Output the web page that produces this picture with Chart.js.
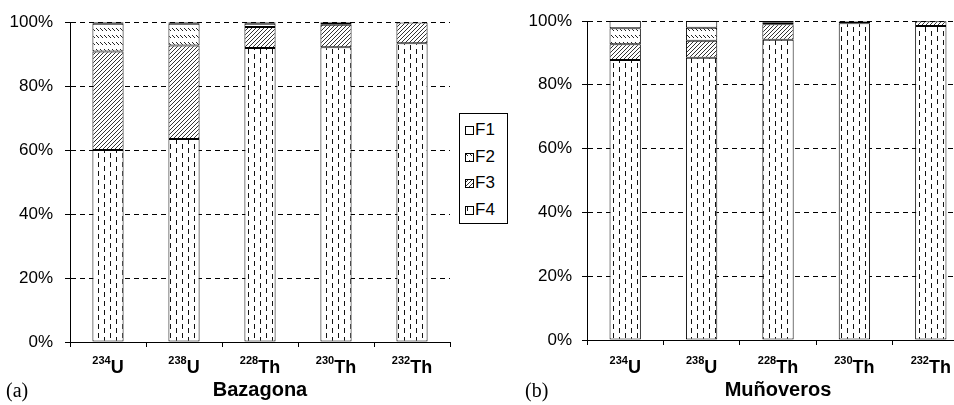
<!DOCTYPE html>
<html><head><meta charset="utf-8">
<script src="https://cdn.jsdelivr.net/npm/chart.js@4.4.1/dist/chart.umd.min.js"></script>
<style>
html,body{margin:0;padding:0;width:954px;height:405px;overflow:hidden;background:#fff;}
#c1{position:absolute;left:0;top:0;}
#c2{position:absolute;left:515px;top:0;}
#legend{position:absolute;left:459px;top:113px;width:47px;height:109px;border:1px solid #000;background:#fff;font-family:'Liberation Sans',Arial,sans-serif;font-size:17px;z-index:2;color:#000}
.row{position:absolute;left:5px;width:40px;height:20px;}
.row canvas{position:absolute;left:0;top:6px;}
.row span{position:absolute;left:10px;top:0;line-height:20px}
</style></head>
<body>
<canvas id="c1" width="460" height="405"></canvas>
<canvas id="c2" width="464" height="405"></canvas>
<div id="legend"></div>
<script>
// ---- data ----
const categories = ['234U', '238U', '228Th', '230Th', '232Th'];
const massNumbers = ['234', '238', '228', '230', '232'];
const elements = ['U', 'U', 'Th', 'Th', 'Th'];
const yTicks = [0, 20, 40, 60, 80, 100];
const seriesNames = ['F1', 'F2', 'F3', 'F4'];

// Bazagona (a)
const bazF4 = [60.0, 63.5, 91.9, 92.2, 93.4];
const bazF3 = [30.8, 29.2, 6.6, 7.0, 6.5];
const bazF2 = [8.7, 6.8, 1.0, 0.2, 0.0];
const bazF1 = [0.5, 0.5, 0.5, 0.6, 0.1];

// Muñoveros (b)
const munF4 = [87.8, 88.5, 94.1, 99.3, 98.4];
const munF3 = [4.9, 5.3, 4.9, 0.5, 1.5];
const munF2 = [5.0, 4.1, 0.6, 0.1, 0.05];
const munF1 = [2.3, 2.1, 0.4, 0.1, 0.05];

// ---- patterns ----
function makeTile(kind){
  const c = document.createElement('canvas');
  const g = c.getContext('2d');
  if (kind === 'F1') { c.width = 4; c.height = 4; g.fillStyle = '#fff'; g.fillRect(0,0,4,4); }
  if (kind === 'F2') { c.width = 4; c.height = 7; g.fillStyle = '#fff'; g.fillRect(0,0,4,7);
    g.fillStyle = '#222'; g.fillRect(0,0,1,1); g.fillRect(1,1,1,1); g.fillRect(2,2,1,1); }
  if (kind === 'F3') { c.width = 4; c.height = 4; g.fillStyle = '#fff'; g.fillRect(0,0,4,4);
    g.fillStyle = '#333'; g.fillRect(3,0,1,1); g.fillRect(2,1,1,1); g.fillRect(1,2,1,1); g.fillRect(0,3,1,1); }
  if (kind === 'F4') { c.width = 12; c.height = 9; g.fillStyle = '#fff'; g.fillRect(0,0,12,9);
    g.fillStyle = '#111'; g.fillRect(2,0,1,5); g.fillRect(8,4,1,5); g.fillRect(8,0,1,0); }
  return c;
}
function pattern(kind, ctx){ return ctx.createPattern(makeTile(kind), 'repeat'); }

const FONT = '"Liberation Sans", Arial, sans-serif';

const labelPlugin = {
  id: 'xlab',
  afterDraw(chart, args, opts) {
    const ctx = chart.ctx; const xs = chart.scales.x;
    ctx.save(); ctx.fillStyle = '#000'; ctx.textBaseline = 'alphabetic'; ctx.textAlign = 'left';
    massNumbers.forEach((m, i) => {
      const cx = xs.getPixelForValue(i);
      ctx.font = 'bold 11px ' + FONT; const wm = ctx.measureText(m).width;
      ctx.font = 'bold 18px ' + FONT; const we = ctx.measureText(elements[i]).width;
      const x0 = cx - (wm + we) / 2;
      ctx.font = 'bold 11px ' + FONT; ctx.fillText(m, x0, 364);
      ctx.font = 'bold 18px ' + FONT; ctx.fillText(elements[i], x0 + wm, 373);
    });
    ctx.font = 'bold 20px ' + FONT; ctx.textAlign = 'center';
    ctx.fillText(opts.title, (chart.chartArea.left + chart.chartArea.right) / 2, 396);
    ctx.font = '20px "Liberation Serif", "Times New Roman", serif'; ctx.textAlign = 'left';
    ctx.fillText(opts.tag, opts.tagX, 397);
    ctx.restore();
  }
};

function makeChart(id, data, opts) {
  const el = document.getElementById(id);
  const ctx = el.getContext('2d');
  const order = [['F4', data[3]], ['F3', data[2]], ['F2', data[1]], ['F1', data[0]]];
  return new Chart(ctx, {
    type: 'bar',
    data: {
      labels: categories,
      datasets: order.map(([n, v]) => ({
        label: n, data: v, backgroundColor: pattern(n, ctx), borderColor: '#000',
        borderWidth: 1, borderSkipped: false, barPercentage: 0.41, categoryPercentage: 1.0
      }))
    },
    options: {
      responsive: false, animation: false,
      layout: { padding: { top: opts.top, right: 10, left: 0, bottom: 0 } },
      plugins: { legend: { display: false }, tooltip: { enabled: false }, xlab: { title: opts.title, tag: opts.tag, tagX: opts.tagX } },
      scales: {
        x: {
          stacked: true,
          ticks: { display: false },
          grid: { display: true, drawOnChartArea: false, tickLength: 5, color: '#000', tickColor: '#000' },
          border: { display: true, color: '#000', width: 1 },
          afterFit: s => { s.height = opts.xh; }
        },
        y: {
          stacked: true, min: 0, max: 100,
          afterBuildTicks: s => { s.ticks = yTicks.map(v => ({ value: v })); },
          ticks: { callback: v => v + '%', color: '#000', font: { family: FONT, size: 17 }, padding: opts.tpad },
          grid: { color: c => (c.tick && c.tick.value === 0) ? 'rgba(0,0,0,0)' : '#000', tickLength: 5, tickColor: '#000', lineWidth: 1 },
          border: { display: true, color: '#000', width: 1, dash: [5, 4] },
          afterFit: s => { s.width = opts.yw; }
        }
      }
    },
    plugins: [labelPlugin]
  });
}

makeChart('c1', [bazF1, bazF2, bazF3, bazF4], { top: 16, xh: 63, yw: 70, tpad: 12, title: 'Bazagona', tag: '(a)', tagX: 6 });
makeChart('c2', [munF1, munF2, munF3, munF4], { top: 21, xh: 65, yw: 72, tpad: 10, title: 'Muñoveros', tag: '(b)', tagX: 10 });

// legend
const leg = document.getElementById('legend');
const rowTops = [6, 33, 59, 86];
seriesNames.forEach((n, i) => {
  const r = document.createElement('div'); r.className = 'row'; r.style.top = rowTops[i] + 'px';
  const sw = document.createElement('canvas'); sw.width = 9; sw.height = 9;
  const g = sw.getContext('2d'); g.fillStyle = pattern(n, g); g.fillRect(0,0,9,9);
  g.strokeStyle = '#000'; g.lineWidth = 1; g.strokeRect(0.5,0.5,8,8);
  const sp = document.createElement('span'); sp.textContent = n;
  r.appendChild(sw); r.appendChild(sp); leg.appendChild(r);
});
</script>
</body></html>
